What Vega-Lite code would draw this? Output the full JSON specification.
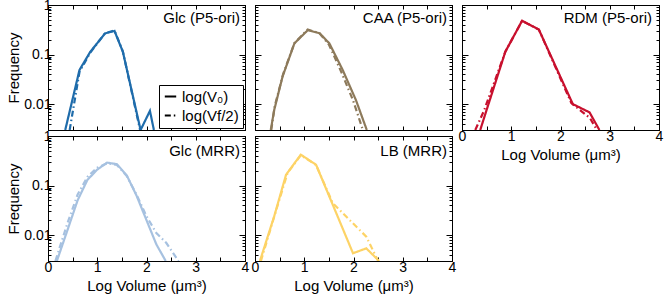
{
 "$schema": "https://vega.github.io/schema/vega-lite/v6.json",
 "autosize": {"type": "none"},
 "padding": {"left": 48, "top": 5, "right": 616, "bottom": 295},
 "background": "white",
 "data": {"values": [
  {"panel":"Glc (P5-ori)","series":"log(V₀)","x":0.35,"y":0.003},
  {"panel":"Glc (P5-ori)","series":"log(V₀)","x":0.64,"y":0.049},
  {"panel":"Glc (P5-ori)","series":"log(V₀)","x":0.86,"y":0.114},
  {"panel":"Glc (P5-ori)","series":"log(V₀)","x":1.16,"y":0.268},
  {"panel":"Glc (P5-ori)","series":"log(V₀)","x":1.35,"y":0.30},
  {"panel":"Glc (P5-ori)","series":"log(V₀)","x":1.52,"y":0.114},
  {"panel":"Glc (P5-ori)","series":"log(V₀)","x":1.88,"y":0.003},
  {"panel":"Glc (P5-ori)","series":"log(V₀)","x":2.07,"y":0.0073},
  {"panel":"Glc (P5-ori)","series":"log(V₀)","x":2.15,"y":0.003},
  {"panel":"Glc (P5-ori)","series":"log(Vf/2)","x":0.44,"y":0.003},
  {"panel":"Glc (P5-ori)","series":"log(Vf/2)","x":0.64,"y":0.045},
  {"panel":"Glc (P5-ori)","series":"log(Vf/2)","x":0.86,"y":0.11},
  {"panel":"Glc (P5-ori)","series":"log(Vf/2)","x":1.16,"y":0.27},
  {"panel":"Glc (P5-ori)","series":"log(Vf/2)","x":1.35,"y":0.305},
  {"panel":"Glc (P5-ori)","series":"log(Vf/2)","x":1.52,"y":0.115},
  {"panel":"Glc (P5-ori)","series":"log(Vf/2)","x":1.87,"y":0.003},

  {"panel":"CAA (P5-ori)","series":"log(V₀)","x":0.32,"y":0.003},
  {"panel":"CAA (P5-ori)","series":"log(V₀)","x":0.39,"y":0.0076},
  {"panel":"CAA (P5-ori)","series":"log(V₀)","x":0.56,"y":0.036},
  {"panel":"CAA (P5-ori)","series":"log(V₀)","x":0.80,"y":0.168},
  {"panel":"CAA (P5-ori)","series":"log(V₀)","x":1.07,"y":0.31},
  {"panel":"CAA (P5-ori)","series":"log(V₀)","x":1.31,"y":0.27},
  {"panel":"CAA (P5-ori)","series":"log(V₀)","x":1.51,"y":0.168},
  {"panel":"CAA (P5-ori)","series":"log(V₀)","x":1.78,"y":0.049},
  {"panel":"CAA (P5-ori)","series":"log(V₀)","x":2.05,"y":0.012},
  {"panel":"CAA (P5-ori)","series":"log(V₀)","x":2.27,"y":0.003},
  {"panel":"CAA (P5-ori)","series":"log(Vf/2)","x":0.33,"y":0.003},
  {"panel":"CAA (P5-ori)","series":"log(Vf/2)","x":0.40,"y":0.009},
  {"panel":"CAA (P5-ori)","series":"log(Vf/2)","x":0.57,"y":0.04},
  {"panel":"CAA (P5-ori)","series":"log(Vf/2)","x":0.80,"y":0.17},
  {"panel":"CAA (P5-ori)","series":"log(Vf/2)","x":1.07,"y":0.32},
  {"panel":"CAA (P5-ori)","series":"log(Vf/2)","x":1.31,"y":0.27},
  {"panel":"CAA (P5-ori)","series":"log(Vf/2)","x":1.50,"y":0.16},
  {"panel":"CAA (P5-ori)","series":"log(Vf/2)","x":1.75,"y":0.045},
  {"panel":"CAA (P5-ori)","series":"log(Vf/2)","x":1.99,"y":0.012},
  {"panel":"CAA (P5-ori)","series":"log(Vf/2)","x":2.19,"y":0.003},

  {"panel":"RDM (P5-ori)","series":"log(V₀)","x":0.37,"y":0.003},
  {"panel":"RDM (P5-ori)","series":"log(V₀)","x":0.52,"y":0.0088},
  {"panel":"RDM (P5-ori)","series":"log(V₀)","x":0.88,"y":0.114},
  {"panel":"RDM (P5-ori)","series":"log(V₀)","x":1.22,"y":0.48},
  {"panel":"RDM (P5-ori)","series":"log(V₀)","x":1.56,"y":0.32},
  {"panel":"RDM (P5-ori)","series":"log(V₀)","x":2.25,"y":0.01},
  {"panel":"RDM (P5-ori)","series":"log(V₀)","x":2.59,"y":0.0068},
  {"panel":"RDM (P5-ori)","series":"log(V₀)","x":2.79,"y":0.003},
  {"panel":"RDM (P5-ori)","series":"log(Vf/2)","x":0.27,"y":0.003},
  {"panel":"RDM (P5-ori)","series":"log(Vf/2)","x":0.45,"y":0.0075},
  {"panel":"RDM (P5-ori)","series":"log(Vf/2)","x":0.88,"y":0.114},
  {"panel":"RDM (P5-ori)","series":"log(Vf/2)","x":1.22,"y":0.48},
  {"panel":"RDM (P5-ori)","series":"log(Vf/2)","x":1.56,"y":0.32},
  {"panel":"RDM (P5-ori)","series":"log(Vf/2)","x":2.22,"y":0.0105},
  {"panel":"RDM (P5-ori)","series":"log(Vf/2)","x":2.60,"y":0.0052},
  {"panel":"RDM (P5-ori)","series":"log(Vf/2)","x":2.74,"y":0.003},

  {"panel":"Glc (MRR)","series":"log(V₀)","x":0.18,"y":0.003},
  {"panel":"Glc (MRR)","series":"log(V₀)","x":0.4,"y":0.013},
  {"panel":"Glc (MRR)","series":"log(V₀)","x":0.6,"y":0.05},
  {"panel":"Glc (MRR)","series":"log(V₀)","x":0.8,"y":0.13},
  {"panel":"Glc (MRR)","series":"log(V₀)","x":1.0,"y":0.21},
  {"panel":"Glc (MRR)","series":"log(V₀)","x":1.2,"y":0.29},
  {"panel":"Glc (MRR)","series":"log(V₀)","x":1.4,"y":0.27},
  {"panel":"Glc (MRR)","series":"log(V₀)","x":1.6,"y":0.16},
  {"panel":"Glc (MRR)","series":"log(V₀)","x":1.8,"y":0.062},
  {"panel":"Glc (MRR)","series":"log(V₀)","x":2.0,"y":0.02},
  {"panel":"Glc (MRR)","series":"log(V₀)","x":2.2,"y":0.0065},
  {"panel":"Glc (MRR)","series":"log(V₀)","x":2.39,"y":0.003},
  {"panel":"Glc (MRR)","series":"log(Vf/2)","x":0.15,"y":0.003},
  {"panel":"Glc (MRR)","series":"log(Vf/2)","x":0.4,"y":0.018},
  {"panel":"Glc (MRR)","series":"log(Vf/2)","x":0.6,"y":0.065},
  {"panel":"Glc (MRR)","series":"log(Vf/2)","x":0.8,"y":0.15},
  {"panel":"Glc (MRR)","series":"log(Vf/2)","x":1.0,"y":0.23},
  {"panel":"Glc (MRR)","series":"log(Vf/2)","x":1.2,"y":0.28},
  {"panel":"Glc (MRR)","series":"log(Vf/2)","x":1.4,"y":0.26},
  {"panel":"Glc (MRR)","series":"log(Vf/2)","x":1.6,"y":0.155},
  {"panel":"Glc (MRR)","series":"log(Vf/2)","x":1.8,"y":0.065},
  {"panel":"Glc (MRR)","series":"log(Vf/2)","x":2.0,"y":0.024},
  {"panel":"Glc (MRR)","series":"log(Vf/2)","x":2.2,"y":0.011},
  {"panel":"Glc (MRR)","series":"log(Vf/2)","x":2.4,"y":0.007},
  {"panel":"Glc (MRR)","series":"log(Vf/2)","x":2.65,"y":0.003},

  {"panel":"LB (MRR)","series":"log(V₀)","x":0.10,"y":0.003},
  {"panel":"LB (MRR)","series":"log(V₀)","x":0.39,"y":0.024},
  {"panel":"LB (MRR)","series":"log(V₀)","x":0.63,"y":0.165},
  {"panel":"LB (MRR)","series":"log(V₀)","x":0.93,"y":0.42},
  {"panel":"LB (MRR)","series":"log(V₀)","x":1.24,"y":0.263},
  {"panel":"LB (MRR)","series":"log(V₀)","x":1.99,"y":0.0043},
  {"panel":"LB (MRR)","series":"log(V₀)","x":2.26,"y":0.0054},
  {"panel":"LB (MRR)","series":"log(V₀)","x":2.52,"y":0.003},
  {"panel":"LB (MRR)","series":"log(Vf/2)","x":0.12,"y":0.003},
  {"panel":"LB (MRR)","series":"log(Vf/2)","x":0.39,"y":0.0235},
  {"panel":"LB (MRR)","series":"log(Vf/2)","x":0.66,"y":0.178},
  {"panel":"LB (MRR)","series":"log(Vf/2)","x":0.93,"y":0.41},
  {"panel":"LB (MRR)","series":"log(Vf/2)","x":1.24,"y":0.26},
  {"panel":"LB (MRR)","series":"log(Vf/2)","x":1.58,"y":0.044},
  {"panel":"LB (MRR)","series":"log(Vf/2)","x":2.26,"y":0.0093},
  {"panel":"LB (MRR)","series":"log(Vf/2)","x":2.5,"y":0.003}
 ]},
 "bounds": "flush",
 "columns": 3,
 "spacing": {"row": 6, "column": 10},
 "resolve": {"scale": {"strokeDash": "independent"}, "legend": {"strokeDash": "independent"}},
 "concat": [
  {
   "width": 197, "height": 125,
   "resolve": {"axis": {"x": "independent", "y": "independent"}},
   "layer": [
    {
     "transform": [{"filter": "datum.panel == 'Glc (P5-ori)' && datum.series == 'log(V₀)'"}],
     "mark": {"type": "line", "color": "#1f6cab", "strokeWidth": 2.2, "clip": true},
     "encoding": {
      "x": {"field": "x", "type": "quantitative", "scale": {"domain": [0, 4], "nice": false, "zero": false},
            "axis": {"orient": "bottom", "values": [0,0.5,1,1.5,2,2.5,3,3.5,4], "labels": false, "title": null, "tickSize": -4}},
      "y": {"field": "y", "type": "quantitative", "scale": {"type": "log", "domain": [0.003, 1], "nice": false},
            "axis": {"orient": "left", "values": [0.003,0.004,0.005,0.006,0.007,0.008,0.009,0.01,0.02,0.03,0.04,0.05,0.06,0.07,0.08,0.09,0.1,0.2,0.3,0.4,0.5,0.6,0.7,0.8,0.9,1],
                     "labelExpr": "abs(log(datum.value)/LN10 - round(log(datum.value)/LN10)) < 0.001 ? format(datum.value, '~g') : ''",
                     "tickSize": {"condition": {"test": "abs(log(datum.value)/LN10 - round(log(datum.value)/LN10)) < 0.001", "value": -6}, "value": -3},
                     "labelOverlap": false, "labelBound": false, "labelFlush": false, "labelPadding": 3, "title": "Frequency", "titlePadding": 2}},
      "strokeDash": {"field": "series", "type": "nominal", "scale": {"domain": ["log(V₀)", "log(Vf/2)"], "range": [[1, 0], [6, 3, 1.5, 3]]},
                     "legend": {"title": null, "orient": "bottom-right", "offset": 2, "strokeColor": "black", "fillColor": "white", "padding": 4, "labelFontSize": 15, "labelFont": "Liberation Sans", "labelColor": "black", "symbolType": "stroke", "symbolStrokeColor": "black", "symbolStrokeWidth": 2, "symbolSize": 130, "rowPadding": 3, "labelOffset": 4, "cornerRadius": 0}}
     }
    },
    {
     "transform": [{"filter": "datum.panel == 'Glc (P5-ori)' && datum.series == 'log(Vf/2)'"}],
     "mark": {"type": "line", "color": "#1f6cab", "strokeWidth": 2.2, "clip": true},
     "encoding": {
      "x": {"field": "x", "type": "quantitative", "scale": {"domain": [0, 4], "nice": false, "zero": false},
            "axis": {"orient": "top", "values": [0,0.5,1,1.5,2,2.5,3,3.5,4], "labels": false, "title": null, "tickSize": -4}},
      "y": {"field": "y", "type": "quantitative", "scale": {"type": "log", "domain": [0.003, 1], "nice": false},
            "axis": {"orient": "right", "values": [0.003,0.004,0.005,0.006,0.007,0.008,0.009,0.01,0.02,0.03,0.04,0.05,0.06,0.07,0.08,0.09,0.1,0.2,0.3,0.4,0.5,0.6,0.7,0.8,0.9,1],
                     "labels": false, "title": null,
                     "tickSize": {"condition": {"test": "abs(log(datum.value)/LN10 - round(log(datum.value)/LN10)) < 0.001", "value": -6}, "value": -3}}},
      "strokeDash": {"field": "series", "type": "nominal", "scale": {"domain": ["log(V₀)", "log(Vf/2)"], "range": [[1, 0], [6, 3, 1.5, 3]]},
                     "legend": {"title": null, "orient": "bottom-right", "offset": 2, "strokeColor": "black", "fillColor": "white", "padding": 4, "labelFontSize": 15, "labelFont": "Liberation Sans", "labelColor": "black", "symbolType": "stroke", "symbolStrokeColor": "black", "symbolStrokeWidth": 2, "symbolSize": 130, "rowPadding": 3, "labelOffset": 4, "cornerRadius": 0}}
     }
    },
    {
     "data": {"values": [{"label": "Glc (P5-ori)"}]},
     "mark": {"type": "text", "align": "right", "baseline": "top", "dx": -5, "dy": 6, "fontSize": 15, "font": "Liberation Sans", "color": "black"},
     "encoding": {"x": {"datum": 4, "type": "quantitative", "axis": null}, "y": {"datum": 1, "type": "quantitative", "axis": null}, "text": {"field": "label"}}
    }
   ]
  },
  {
   "width": 197, "height": 125,
   "resolve": {"axis": {"x": "independent", "y": "independent"}},
   "layer": [
    {
     "transform": [{"filter": "datum.panel == 'CAA (P5-ori)' && datum.series == 'log(V₀)'"}],
     "mark": {"type": "line", "color": "#8d7a5b", "strokeWidth": 2.2, "clip": true},
     "encoding": {
      "x": {"field": "x", "type": "quantitative", "scale": {"domain": [0, 4], "nice": false, "zero": false},
            "axis": {"orient": "bottom", "values": [0,0.5,1,1.5,2,2.5,3,3.5,4], "labels": false, "title": null, "tickSize": -4}},
      "y": {"field": "y", "type": "quantitative", "scale": {"type": "log", "domain": [0.003, 1], "nice": false},
            "axis": {"orient": "left", "values": [0.003,0.004,0.005,0.006,0.007,0.008,0.009,0.01,0.02,0.03,0.04,0.05,0.06,0.07,0.08,0.09,0.1,0.2,0.3,0.4,0.5,0.6,0.7,0.8,0.9,1],
                     "labels": false, "title": null,
                     "tickSize": {"condition": {"test": "abs(log(datum.value)/LN10 - round(log(datum.value)/LN10)) < 0.001", "value": -6}, "value": -3}}},
      "strokeDash": {"field": "series", "type": "nominal", "scale": {"domain": ["log(V₀)", "log(Vf/2)"], "range": [[1, 0], [6, 3, 1.5, 3]]}, "legend": null}
     }
    },
    {
     "transform": [{"filter": "datum.panel == 'CAA (P5-ori)' && datum.series == 'log(Vf/2)'"}],
     "mark": {"type": "line", "color": "#8d7a5b", "strokeWidth": 2.2, "clip": true},
     "encoding": {
      "x": {"field": "x", "type": "quantitative", "scale": {"domain": [0, 4], "nice": false, "zero": false},
            "axis": {"orient": "top", "values": [0,0.5,1,1.5,2,2.5,3,3.5,4], "labels": false, "title": null, "tickSize": -4}},
      "y": {"field": "y", "type": "quantitative", "scale": {"type": "log", "domain": [0.003, 1], "nice": false},
            "axis": {"orient": "right", "values": [0.003,0.004,0.005,0.006,0.007,0.008,0.009,0.01,0.02,0.03,0.04,0.05,0.06,0.07,0.08,0.09,0.1,0.2,0.3,0.4,0.5,0.6,0.7,0.8,0.9,1],
                     "labels": false, "title": null,
                     "tickSize": {"condition": {"test": "abs(log(datum.value)/LN10 - round(log(datum.value)/LN10)) < 0.001", "value": -6}, "value": -3}}},
      "strokeDash": {"field": "series", "type": "nominal", "scale": {"domain": ["log(V₀)", "log(Vf/2)"], "range": [[1, 0], [6, 3, 1.5, 3]]}, "legend": null}
     }
    },
    {
     "data": {"values": [{"label": "CAA (P5-ori)"}]},
     "mark": {"type": "text", "align": "right", "baseline": "top", "dx": -5, "dy": 6, "fontSize": 15, "font": "Liberation Sans", "color": "black"},
     "encoding": {"x": {"datum": 4, "type": "quantitative", "axis": null}, "y": {"datum": 1, "type": "quantitative", "axis": null}, "text": {"field": "label"}}
    }
   ]
  },
  {
   "width": 197, "height": 125,
   "resolve": {"axis": {"x": "independent", "y": "independent"}},
   "layer": [
    {
     "transform": [{"filter": "datum.panel == 'RDM (P5-ori)' && datum.series == 'log(V₀)'"}],
     "mark": {"type": "line", "color": "#c8102e", "strokeWidth": 2.2, "clip": true},
     "encoding": {
      "x": {"field": "x", "type": "quantitative", "scale": {"domain": [0, 4], "nice": false, "zero": false},
            "axis": {"orient": "bottom", "values": [0,0.5,1,1.5,2,2.5,3,3.5,4], "tickSize": -4,
                     "labelExpr": "datum.value % 1 == 0 ? format(datum.value, 'd') : ''", "labelFlush": false, "labelOverlap": false, "labelBound": false, "labelPadding": 3,
                     "title": "Log Volume (μm³)", "titlePadding": 4}},
      "y": {"field": "y", "type": "quantitative", "scale": {"type": "log", "domain": [0.003, 1], "nice": false},
            "axis": {"orient": "left", "values": [0.003,0.004,0.005,0.006,0.007,0.008,0.009,0.01,0.02,0.03,0.04,0.05,0.06,0.07,0.08,0.09,0.1,0.2,0.3,0.4,0.5,0.6,0.7,0.8,0.9,1],
                     "labels": false, "title": null,
                     "tickSize": {"condition": {"test": "abs(log(datum.value)/LN10 - round(log(datum.value)/LN10)) < 0.001", "value": -6}, "value": -3}}},
      "strokeDash": {"field": "series", "type": "nominal", "scale": {"domain": ["log(V₀)", "log(Vf/2)"], "range": [[1, 0], [6, 3, 1.5, 3]]}, "legend": null}
     }
    },
    {
     "transform": [{"filter": "datum.panel == 'RDM (P5-ori)' && datum.series == 'log(Vf/2)'"}],
     "mark": {"type": "line", "color": "#c8102e", "strokeWidth": 2.2, "clip": true},
     "encoding": {
      "x": {"field": "x", "type": "quantitative", "scale": {"domain": [0, 4], "nice": false, "zero": false},
            "axis": {"orient": "top", "values": [0,0.5,1,1.5,2,2.5,3,3.5,4], "labels": false, "title": null, "tickSize": -4}},
      "y": {"field": "y", "type": "quantitative", "scale": {"type": "log", "domain": [0.003, 1], "nice": false},
            "axis": {"orient": "right", "values": [0.003,0.004,0.005,0.006,0.007,0.008,0.009,0.01,0.02,0.03,0.04,0.05,0.06,0.07,0.08,0.09,0.1,0.2,0.3,0.4,0.5,0.6,0.7,0.8,0.9,1],
                     "labels": false, "title": null,
                     "tickSize": {"condition": {"test": "abs(log(datum.value)/LN10 - round(log(datum.value)/LN10)) < 0.001", "value": -6}, "value": -3}}},
      "strokeDash": {"field": "series", "type": "nominal", "scale": {"domain": ["log(V₀)", "log(Vf/2)"], "range": [[1, 0], [6, 3, 1.5, 3]]}, "legend": null}
     }
    },
    {
     "data": {"values": [{"label": "RDM (P5-ori)"}]},
     "mark": {"type": "text", "align": "right", "baseline": "top", "dx": -7, "dy": 6, "fontSize": 15, "font": "Liberation Sans", "color": "black"},
     "encoding": {"x": {"datum": 4, "type": "quantitative", "axis": null}, "y": {"datum": 1, "type": "quantitative", "axis": null}, "text": {"field": "label"}}
    }
   ]
  },
  {
   "width": 197, "height": 125,
   "resolve": {"axis": {"x": "independent", "y": "independent"}},
   "layer": [
    {
     "transform": [{"filter": "datum.panel == 'Glc (MRR)' && datum.series == 'log(V₀)'"}],
     "mark": {"type": "line", "color": "#a6c1e0", "strokeWidth": 2.2, "clip": true},
     "encoding": {
      "x": {"field": "x", "type": "quantitative", "scale": {"domain": [0, 4], "nice": false, "zero": false},
            "axis": {"orient": "bottom", "values": [0,0.5,1,1.5,2,2.5,3,3.5,4], "tickSize": -4,
                     "labelExpr": "datum.value % 1 == 0 ? format(datum.value, 'd') : ''", "labelFlush": false, "labelOverlap": false, "labelBound": false, "labelPadding": 3,
                     "title": "Log Volume (μm³)", "titlePadding": 4}},
      "y": {"field": "y", "type": "quantitative", "scale": {"type": "log", "domain": [0.003, 1], "nice": false},
            "axis": {"orient": "left", "values": [0.003,0.004,0.005,0.006,0.007,0.008,0.009,0.01,0.02,0.03,0.04,0.05,0.06,0.07,0.08,0.09,0.1,0.2,0.3,0.4,0.5,0.6,0.7,0.8,0.9,1],
                     "labelExpr": "abs(log(datum.value)/LN10 - round(log(datum.value)/LN10)) < 0.001 ? format(datum.value, '~g') : ''",
                     "tickSize": {"condition": {"test": "abs(log(datum.value)/LN10 - round(log(datum.value)/LN10)) < 0.001", "value": -6}, "value": -3},
                     "labelOverlap": false, "labelBound": false, "labelFlush": false, "labelPadding": 3, "title": "Frequency", "titlePadding": 2}},
      "strokeDash": {"field": "series", "type": "nominal", "scale": {"domain": ["log(V₀)", "log(Vf/2)"], "range": [[1, 0], [6, 3, 1.5, 3]]}, "legend": null}
     }
    },
    {
     "transform": [{"filter": "datum.panel == 'Glc (MRR)' && datum.series == 'log(Vf/2)'"}],
     "mark": {"type": "line", "color": "#a6c1e0", "strokeWidth": 2.2, "clip": true},
     "encoding": {
      "x": {"field": "x", "type": "quantitative", "scale": {"domain": [0, 4], "nice": false, "zero": false},
            "axis": {"orient": "top", "values": [0,0.5,1,1.5,2,2.5,3,3.5,4], "labels": false, "title": null, "tickSize": -4}},
      "y": {"field": "y", "type": "quantitative", "scale": {"type": "log", "domain": [0.003, 1], "nice": false},
            "axis": {"orient": "right", "values": [0.003,0.004,0.005,0.006,0.007,0.008,0.009,0.01,0.02,0.03,0.04,0.05,0.06,0.07,0.08,0.09,0.1,0.2,0.3,0.4,0.5,0.6,0.7,0.8,0.9,1],
                     "labels": false, "title": null,
                     "tickSize": {"condition": {"test": "abs(log(datum.value)/LN10 - round(log(datum.value)/LN10)) < 0.001", "value": -6}, "value": -3}}},
      "strokeDash": {"field": "series", "type": "nominal", "scale": {"domain": ["log(V₀)", "log(Vf/2)"], "range": [[1, 0], [6, 3, 1.5, 3]]}, "legend": null}
     }
    },
    {
     "data": {"values": [{"label": "Glc (MRR)"}]},
     "mark": {"type": "text", "align": "right", "baseline": "top", "dx": -5, "dy": 8, "fontSize": 15, "font": "Liberation Sans", "color": "black"},
     "encoding": {"x": {"datum": 4, "type": "quantitative", "axis": null}, "y": {"datum": 1, "type": "quantitative", "axis": null}, "text": {"field": "label"}}
    }
   ]
  },
  {
   "width": 197, "height": 125,
   "resolve": {"axis": {"x": "independent", "y": "independent"}},
   "layer": [
    {
     "transform": [{"filter": "datum.panel == 'LB (MRR)' && datum.series == 'log(V₀)'"}],
     "mark": {"type": "line", "color": "#fdd366", "strokeWidth": 2.2, "clip": true},
     "encoding": {
      "x": {"field": "x", "type": "quantitative", "scale": {"domain": [0, 4], "nice": false, "zero": false},
            "axis": {"orient": "bottom", "values": [0,0.5,1,1.5,2,2.5,3,3.5,4], "tickSize": -4,
                     "labelExpr": "datum.value % 1 == 0 ? format(datum.value, 'd') : ''", "labelFlush": false, "labelOverlap": false, "labelBound": false, "labelPadding": 3,
                     "title": "Log Volume (μm³)", "titlePadding": 4}},
      "y": {"field": "y", "type": "quantitative", "scale": {"type": "log", "domain": [0.003, 1], "nice": false},
            "axis": {"orient": "left", "values": [0.003,0.004,0.005,0.006,0.007,0.008,0.009,0.01,0.02,0.03,0.04,0.05,0.06,0.07,0.08,0.09,0.1,0.2,0.3,0.4,0.5,0.6,0.7,0.8,0.9,1],
                     "labels": false, "title": null,
                     "tickSize": {"condition": {"test": "abs(log(datum.value)/LN10 - round(log(datum.value)/LN10)) < 0.001", "value": -6}, "value": -3}}},
      "strokeDash": {"field": "series", "type": "nominal", "scale": {"domain": ["log(V₀)", "log(Vf/2)"], "range": [[1, 0], [6, 3, 1.5, 3]]}, "legend": null}
     }
    },
    {
     "transform": [{"filter": "datum.panel == 'LB (MRR)' && datum.series == 'log(Vf/2)'"}],
     "mark": {"type": "line", "color": "#fdd366", "strokeWidth": 2.2, "clip": true},
     "encoding": {
      "x": {"field": "x", "type": "quantitative", "scale": {"domain": [0, 4], "nice": false, "zero": false},
            "axis": {"orient": "top", "values": [0,0.5,1,1.5,2,2.5,3,3.5,4], "labels": false, "title": null, "tickSize": -4}},
      "y": {"field": "y", "type": "quantitative", "scale": {"type": "log", "domain": [0.003, 1], "nice": false},
            "axis": {"orient": "right", "values": [0.003,0.004,0.005,0.006,0.007,0.008,0.009,0.01,0.02,0.03,0.04,0.05,0.06,0.07,0.08,0.09,0.1,0.2,0.3,0.4,0.5,0.6,0.7,0.8,0.9,1],
                     "labels": false, "title": null,
                     "tickSize": {"condition": {"test": "abs(log(datum.value)/LN10 - round(log(datum.value)/LN10)) < 0.001", "value": -6}, "value": -3}}},
      "strokeDash": {"field": "series", "type": "nominal", "scale": {"domain": ["log(V₀)", "log(Vf/2)"], "range": [[1, 0], [6, 3, 1.5, 3]]}, "legend": null}
     }
    },
    {
     "data": {"values": [{"label": "LB (MRR)"}]},
     "mark": {"type": "text", "align": "right", "baseline": "top", "dx": -5, "dy": 8, "fontSize": 15, "font": "Liberation Sans", "color": "black"},
     "encoding": {"x": {"datum": 4, "type": "quantitative", "axis": null}, "y": {"datum": 1, "type": "quantitative", "axis": null}, "text": {"field": "label"}}
    }
   ]
  }
 ],
 "config": {
  "font": "Liberation Sans",
  "view": {"stroke": "black", "strokeWidth": 1},
  "axis": {"domainColor": "black", "tickColor": "black", "labelColor": "black", "titleColor": "black", "labelFont": "Liberation Sans", "titleFont": "Liberation Sans", "labelFontSize": 14, "titleFontSize": 15, "titleFontWeight": "normal", "grid": false, "domainWidth": 1, "tickWidth": 1}
 }
}
